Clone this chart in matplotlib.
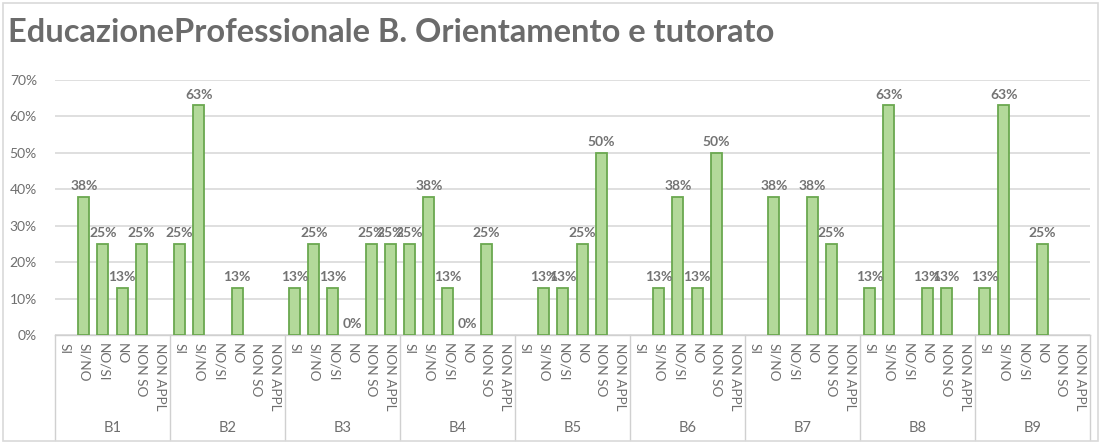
import matplotlib
matplotlib.use("Agg")
import matplotlib.pyplot as plt
from matplotlib.transforms import blended_transform_factory
from matplotlib.lines import Line2D
from matplotlib.patches import Rectangle

groups = ["B1", "B2", "B3", "B4", "B5", "B6", "B7", "B8", "B9"]
categories = ["SI", "SI/NO", "NO/SI", "NO", "NON SO", "NON APPL"]
# values in percent; None = no bar / no label
values = {
    "B1": [None, 38, 25, 13, 25, None],
    "B2": [25, 63, None, 13, None, None],
    "B3": [13, 25, 13, 0, 25, 25],
    "B4": [25, 38, 13, 0, 25, None],
    "B5": [None, 13, 13, 25, 50, None],
    "B6": [None, 13, 38, 13, 50, None],
    "B7": [None, 38, None, 38, 25, None],
    "B8": [13, 63, None, 13, 13, None],
    "B9": [13, 63, None, 25, None, None],
}
yticks = [0, 10, 20, 30, 40, 50, 60, 70]
title = "EducazioneProfessionale B. Orientamento e tutorato"

plt.rcParams['font.family'] = ['Lato', 'DejaVu Sans']
W, H = 1101, 444
fig = plt.figure(figsize=(W / 100, H / 100), dpi=100)
TXT = "#6f6f6f"

left, right, top, bottom = 55, 1090, 80, 335
ax = fig.add_axes([left / W, 1 - bottom / H, (right - left) / W, (bottom - top) / H])

ncat = len(categories)
n = len(groups) * ncat
xs, hs = [], []
for gi, g in enumerate(groups):
    for ci, v in enumerate(values[g]):
        x = gi * ncat + ci
        if v is None:
            continue
        xs.append(x)
        hs.append(v)

bx = [x for x, h in zip(xs, hs) if h > 0]
bh = [h for h in hs if h > 0]
ax.bar(bx, bh, width=0.57, color="#b3d99a", edgecolor="#6aa84f", linewidth=1.3, zorder=3)
for x, h in zip(xs, hs):
    ax.text(x, h + 1.3, f"{h}%", ha="center", va="bottom", fontsize=10,
            fontweight="bold", color="#737373", zorder=4)

ax.set_xlim(-0.5, n - 0.5)
ax.set_ylim(0, 70)
ax.set_yticks(yticks)
ax.set_yticklabels([f"{t}%" for t in yticks], fontsize=10, color=TXT)
ax.yaxis.grid(True, color="#d9d9d9", linewidth=1.2, zorder=0)
ax.set_xticks([])
ax.tick_params(axis="y", length=0, pad=13)
for s in ["top", "right", "left"]:
    ax.spines[s].set_visible(False)
ax.spines["bottom"].set_color("#d0d0d0")
ax.spines["bottom"].set_linewidth(1.0)

trans = blended_transform_factory(ax.transData, ax.transAxes)
ph = bottom - top
box_bottom = 440
for gi, g in enumerate(groups):
    for ci, c in enumerate(categories):
        x = gi * ncat + ci
        ax.text(x, -8 / ph, c, rotation=-90, ha="center", va="top", fontsize=9.8,
                color=TXT, transform=trans, clip_on=False)
    ax.text(gi * ncat + (ncat - 1) / 2, -(428 - bottom) / ph, g, ha="center", va="center",
            fontsize=10.5, color=TXT, transform=trans, clip_on=False)
for gi in range(len(groups) + 1):
    xb = gi * ncat - 0.5
    ax.add_line(Line2D([xb, xb], [0, -(box_bottom - bottom) / ph], color="#d0d0d0",
                       linewidth=1.0, transform=trans, clip_on=False))

fig.text(8 / W, 1 - 33 / H, title, ha="left", va="center", fontsize=23.5,
         fontweight="bold", color="#6b6b6b")

fig.patches.append(Rectangle((3 / W, 3 / H), (W - 6) / W, (H - 6) / H, transform=fig.transFigure,
                             fill=False, edgecolor="#d9d9d9", linewidth=1.2))

fig.savefig("out.png", dpi=100)
